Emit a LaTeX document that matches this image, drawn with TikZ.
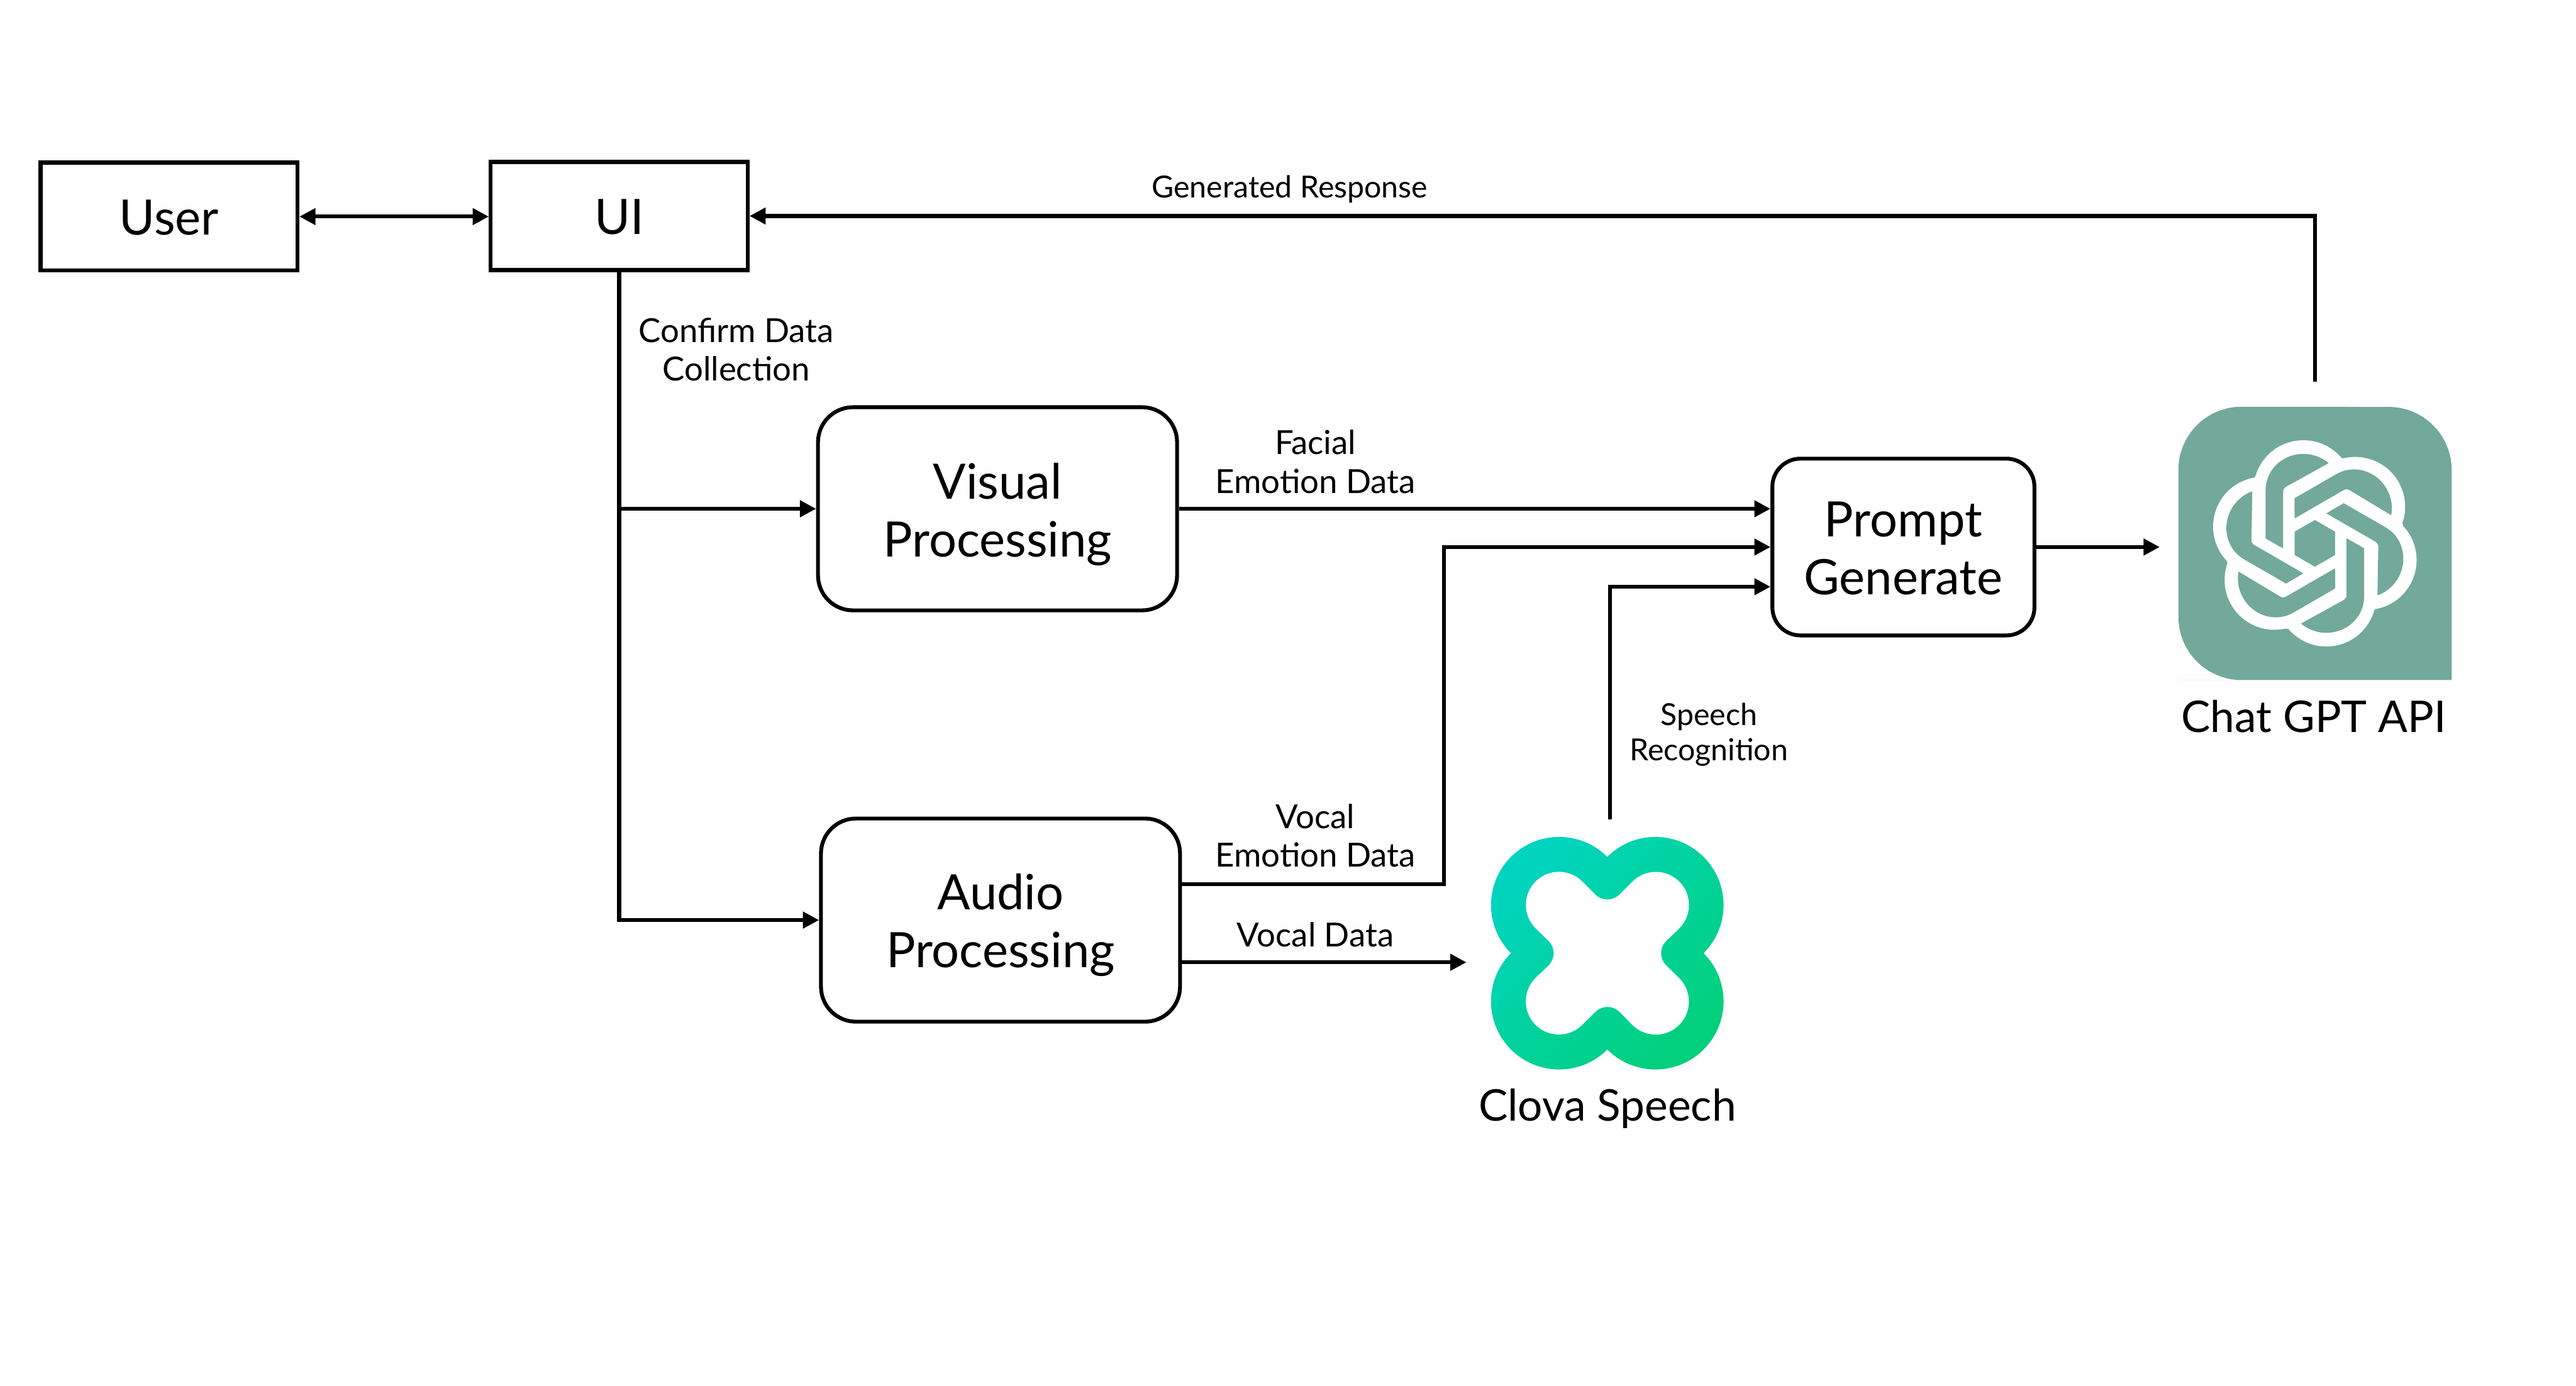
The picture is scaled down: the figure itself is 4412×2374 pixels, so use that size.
\documentclass[tikz,border=0pt]{standalone}
\usepackage{fontspec}
\setmainfont{Lato}
\usetikzlibrary{arrows.meta,positioning}
\definecolor{gptgreen}{RGB}{114,169,154}
\definecolor{clovaA}{RGB}{0,212,192}
\definecolor{clovaB}{RGB}{2,208,122}
\newcommand{\toppad}[1]{\rule{0pt}{#1}}
\tikzset{
  edge/.style={line width=1.65pt,-{Triangle[length=6.9pt,width=6.9pt]}},
  plain/.style={line width=1.65pt},
  bigtext/.style={align=center,inner sep=0pt,font=\fontsize{20.9}{24.75}\selectfont,
    execute at begin node={\rule{0pt}{20pt}},execute at end node={\rule[-4.5pt]{0pt}{0pt}}},
  sqbox/.style={bigtext,draw=black,line width=1.65pt,outer sep=0.825pt,minimum width=110pt,minimum height=46.3pt},
  procbox/.style={bigtext,draw=black,line width=1.65pt,outer sep=0.825pt,rounded corners=15pt,minimum width=153.75pt,minimum height=87pt},
  logolab/.style={align=center,inner sep=0pt,font=\fontsize{18.7}{22}\selectfont,
    execute at begin node={\rule{0pt}{20pt}},execute at end node={\rule[-4.5pt]{0pt}{0pt}}},
  midlab/.style={align=center,inner sep=0pt,font=\fontsize{14.2}{16.5}\selectfont},
  smalllab/.style={align=center,inner sep=0pt,font=\fontsize{13}{15}\selectfont},
}
\begin{document}
\begin{tikzpicture}[x=0.25pt,y=-0.25pt]
\useasboundingbox (0,0) rectangle (4412,2374);
% nodes
\node[sqbox] (user) at (289.5,371) {User};
\node[sqbox] (ui) at (1060.5,370) {UI};
\node[procbox] (visual) at (1708.5,871.5) {\toppad{21pt}Visual\\Processing};
\node[procbox] (audio) at (1713.6,1576) {\toppad{20.5pt}Audio\\Processing};
\node[procbox,rounded corners=12pt,minimum width=112.2pt,minimum height=75.7pt] (prompt) at (3260,937) {\toppad{20.5pt}Prompt\\Generate};
% ChatGPT logo
\fill[gptgreen] (3731,1164.7) -- (4199,1164.7) -- (4199,805) arc[start angle=0,end angle=-90,radius=108] -- (3839,696.7) arc[start angle=-90,end angle=-180,radius=108] -- (3731,1056.7) arc[start angle=180,end angle=90,radius=108] -- cycle;
\coordinate (chatin) at (3699,937);
\coordinate (chatout) at (3964.5,654);
\begin{scope}[shift={(3964.7,930.7)},scale=0.3333]
  \foreach \k in {0,60,...,300}{
    \fill[white,rotate=\k] (-59,-274) circle[radius=256];
  }
  \fill[white] (143,-439) -- (453,-97) -- (306,345) -- (-144,440) -- (-452,98) -- (-307,-345) -- cycle;
  \foreach \k in {0,60,...,300}{
    \fill[gptgreen,rotate=\k] (-253,-25) -- (-163,26) -- (-163,-262) .. controls (-163,-277) and (-158,-285) .. (-146,-292) -- (70.8,-412.2) arc[start angle=-48,end angle=-180,x radius=194,y radius=185] -- cycle;
  }
  \fill[gptgreen] (0,-120) -- (104,-60) -- (104,60) -- (0,120) -- (-104,60) -- (-104,-60) -- cycle;
\end{scope}
\node[logolab] (chatlab) at (3963,1223) {Chat GPT API};
% Clova logo
\coordinate (clovain) at (2511.5,1648.3);
\coordinate (clovaout) at (2757.5,1404);
\begin{scope}[shift={(2753,1632.7)},scale=0.3333]
  \shade[top color=clovaA,bottom color=clovaB,shading angle=45]
    (-495.5,0) arc[start angle=135,end angle=315,radius=350]
    arc[start angle=-135,end angle=45,radius=350]
    arc[start angle=-45,end angle=135,radius=350]
    arc[start angle=45,end angle=225,radius=350] -- cycle;
  \fill[white] (-63,-302) arc[start angle=135,end angle=45,radius=89]
    -- (129,-368) arc[start angle=-135,end angle=45,radius=170]
    -- (302,-63) arc[start angle=-135,end angle=-225,radius=89]
    -- (369,128) arc[start angle=-45,end angle=135,radius=170]
    -- (63,302) arc[start angle=-45,end angle=-135,radius=89]
    -- (-129,368) arc[start angle=45,end angle=225,radius=170]
    -- (-302,63) arc[start angle=45,end angle=-45,radius=89]
    -- (-369,-128) arc[start angle=135,end angle=315,radius=170] -- cycle;
\end{scope}
\node[logolab] (clovalab) at (2753,1889) {Clova Speech};
% ports
\coordinate (pa) at (prompt.west |- visual.east);
\coordinate (pb) at (prompt.west);
\coordinate (pc) at (prompt.west |- 0,1005);
\coordinate (ae) at (audio.east |- 0,1514);
\coordinate (ad) at (audio.east |- 0,1648.3);
% connectors
\draw[plain,{Triangle[length=6.9pt,width=6.9pt]}-{Triangle[length=6.9pt,width=6.9pt]}] (user.east) -- (ui.west |- user.east);
\draw[edge] (chatout) |- (ui.east);
\draw[edge] (ui.south) |- (audio.west);
\draw[edge] (ui.south |- visual.west) -- (visual.west);
\draw[edge] (visual.east) -- (pa);
\draw[edge] (ae) -| (2473,937) -- (pb);
\draw[edge] (clovaout) |- (pc);
\draw[edge] (ad) -- (clovain);
\draw[edge] (prompt.east) -- (chatin);
% labels
\node[smalllab] (l1) at (2209,324) {Generated Response};
\node[midlab] (l2) at (1261,599) {Confirm Data\\Collection};
\node[midlab] (l3) at (2253,791) {Facial\\Emotion Data};
\node[midlab] (l4) at (2253,1431) {Vocal\\Emotion Data};
\node[midlab] (l5) at (2253,1601) {Vocal Data};
\node[smalllab] (l6) at (2927,1258) {Speech\\Recognition};
\end{tikzpicture}
\end{document}
